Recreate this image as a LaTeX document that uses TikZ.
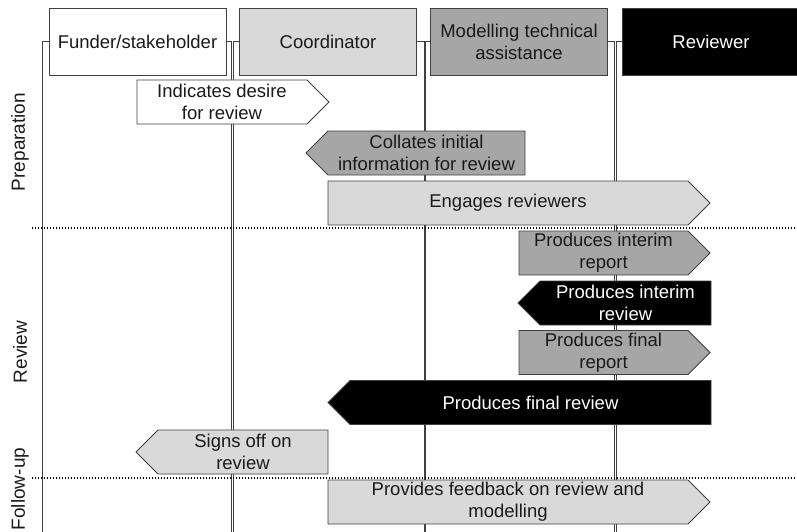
\documentclass[tikz,border=0pt]{standalone}
\usepackage{fontspec}
\setmainfont{Liberation Sans}
\definecolor{lightg}{HTML}{D9D9D9}
\definecolor{midg}{HTML}{A6A6A6}
\definecolor{edge}{HTML}{404040}
\definecolor{txt}{HTML}{1A1A1A}
\tikzset{
  lane/.style={draw=edge, line width=0.9pt},
  hdr/.style={draw=edge, line width=0.9pt, minimum width=177pt, minimum height=67pt, inner sep=0pt, align=center, text=txt, font=\fontsize{18.5}{22}\selectfont},
  acttext/.style={inner sep=0pt, align=center, text=txt, font=\fontsize{18.5}{22}\selectfont},
  actshape/.style={draw=edge, line width=0.9pt},
  phase/.style={rotate=90, inner sep=0pt, text=txt, font=\fontsize{19}{22}\selectfont},
  sep/.style={line width=2pt, dash pattern=on 1.4pt off 1.6pt, black}
}
% right-pointing activity: name, x1, x2 (body), ytop, fill, text colour, text
\newcommand\actRight[7]{%
  \path[actshape, fill=#5] (#2,#4) -- (#3,#4) -- ({#3+22},{#4+22}) -- (#3,{#4+44}) -- (#2,{#4+44}) -- cycle;
  \node[acttext, text=#6] (#1) at ({(#2+#3)/2},{#4+22}) {#7};}
% left-pointing activity: name, x1, x2 (body), ytop, fill, text colour, text
\newcommand\actLeft[7]{%
  \path[actshape, fill=#5] (#2,#4) -- (#3,#4) -- (#3,{#4+44}) -- (#2,{#4+44}) -- ({#2-22},{#4+22}) -- cycle;
  \node[acttext, text=#6] (#1) at ({(#2+#3)/2},{#4+22}) {#7};}
\begin{document}
\begin{tikzpicture}[x=1pt,y=-1pt]
\useasboundingbox (0,0) rectangle (797,532);
\clip (0,0) rectangle (797,532);
% headers
\node[hdr, fill=white] (fund) at (137.5,41.5) {Funder/stakeholder};
\node[hdr, fill=lightg] (coord) at (328,41.5) {Coordinator};
\node[hdr, fill=midg] (model) at (519,41.5) {Modelling technical\\assistance};
\node[hdr, fill=black, text=white, minimum width=190pt, anchor=west] (rev) at (622,41.5) {\hspace*{-13pt}Reviewer};
% lane lines
\coordinate (bot) at (0,532);
\draw[lane] (fund.west) -- ++(-6,0) coordinate (f1) -- (f1 |- bot);
\draw[lane] (fund.east) -- ++(5,0) coordinate (f2) -- (f2 |- bot);
\draw[lane] (coord.west) -- ++(-6,0) coordinate (c1) -- (c1 |- bot);
\draw[lane] (coord.east) -- ++(7,0) coordinate (c2) -- (c2 |- bot);
\draw[lane] (model.west) -- ++(-5,0) coordinate (m1) -- (m1 |- bot);
\draw[lane] (model.east) -- ++(6,0) coordinate (m2) -- (m2 |- bot);
\draw[lane] (rev.west) -- ++(-6,0) coordinate (r1) -- (r1 |- bot);
% phase separators
\coordinate (s1a) at (32,228); \coordinate (s1b) at (797,228);
\coordinate (s2a) at (32,478); \coordinate (s2b) at (797,478);
\draw[sep] (s1a) -- (s1b);
\draw[sep] (s2a) -- (s2b);
% phase labels
\node[phase] (pprep) at (20,142) {Preparation};
\node[phase] (prev) at (20,352) {Review};
\node[phase] (pfol) at (20,489) {Follow-up};
% activities
\actRight{a1}{137}{307}{80}{white}{txt}{Indicates desire\\for review}
\actLeft{a2}{328}{525}{131}{midg}{txt}{Collates initial\\information for review}
\actRight{a3}{328}{688}{181}{lightg}{txt}{Engages reviewers}
\actRight{a4}{519}{688}{231}{midg}{txt}{Produces interim\\report}
\actLeft{a5}{540}{711}{281}{black}{white}{Produces interim\\review}
\actRight{a6}{519}{688}{330.5}{midg}{txt}{Produces final\\report}
\actLeft{a7}{350}{711}{380.5}{black}{white}{Produces final review}
\actLeft{a8}{158}{328}{430}{lightg}{txt}{Signs off on\\review}
\actRight{a9}{328}{688}{480}{lightg}{txt}{Provides feedback on review and\\modelling}
\end{tikzpicture}
\end{document}
